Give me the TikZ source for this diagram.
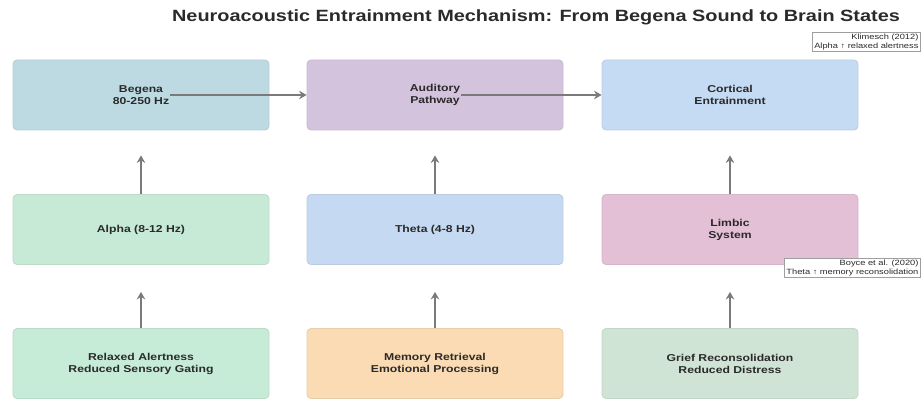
\documentclass[tikz,border=0pt]{standalone}
\usepackage{fontspec}
\setmainfont[FakeStretch=1.22]{Liberation Sans}
\usetikzlibrary{arrows.meta}
\definecolor{cBeg}{HTML}{BDDAE3}
\definecolor{cAud}{HTML}{D4C3DD}
\definecolor{cCor}{HTML}{C5DAF3}
\definecolor{cAlp}{HTML}{C6EAD5}
\definecolor{cThe}{HTML}{C5DAF2}
\definecolor{cLim}{HTML}{E3C0D5}
\definecolor{cRel}{HTML}{C6EBD7}
\definecolor{cMem}{HTML}{FBDBB3}
\definecolor{cGri}{HTML}{D0E4D6}
\definecolor{txt}{HTML}{2A2A2A}
\definecolor{arr}{HTML}{7A7A7A}
\tikzset{
  box/.style={rounded corners=4pt, minimum width=256pt, minimum height=70pt, line width=0.8pt},
  lbl/.style={font=\bfseries\fontsize{10}{12}\selectfont, text=txt, align=center, inner sep=1pt},
  conn/.style={draw=arr, line width=1.6pt, -{Stealth[length=7.5pt,width=8.5pt]}},
  note/.style={draw=gray!75, fill=white, line width=0.6pt, font=\fontsize{7.6}{8.4}\selectfont, text=txt, align=right, inner sep=1.8pt, anchor=north east}
}
\begin{document}
\begin{tikzpicture}[x=1pt,y=-1pt]
\useasboundingbox (0,0) rectangle (921,401);
\node[font=\bfseries\fontsize{16.3}{19}\selectfont, text=txt] (title) at (536,17) {Neuroacoustic Entrainment Mechanism: From Begena Sound to Brain States};
% boxes
\node[box, draw=cBeg!85!gray, fill=cBeg] (beg) at (141,95) {};
\node[box, draw=cAud!85!gray, fill=cAud] (aud) at (435,95) {};
\node[box, draw=cCor!85!gray, fill=cCor] (cor) at (730,95) {};
\node[box, draw=cAlp!85!gray, fill=cAlp] (alp) at (141,229.5) {};
\node[box, draw=cThe!85!gray, fill=cThe] (the) at (435,229.5) {};
\node[box, draw=cLim!85!gray, fill=cLim] (lim) at (730,229.5) {};
\node[box, draw=cRel!85!gray, fill=cRel] (rel) at (141,363.5) {};
\node[box, draw=cMem!85!gray, fill=cMem] (mem) at (435,363.5) {};
\node[box, draw=cGri!85!gray, fill=cGri] (gri) at (730,363.5) {};
% labels
\node[lbl, fill=cBeg] (begL) at (beg) {Begena\\80-250 Hz};
\node[lbl, fill=cAud] (audL) at (aud) {Auditory\\Pathway};
\node[lbl] (corL) at (cor) {Cortical\\Entrainment};
\node[lbl] (alpL) at (alp) {Alpha (8-12 Hz)};
\node[lbl] (theL) at (the) {Theta (4-8 Hz)};
\node[lbl] (limL) at (lim) {Limbic\\System};
\node[lbl] (relL) at (rel) {Relaxed Alertness\\Reduced Sensory Gating};
\node[lbl] (memL) at (mem) {Memory Retrieval\\Emotional Processing};
\node[lbl] (griL) at (gri) {Grief Reconsolidation\\Reduced Distress};
% connectors
\draw[conn] (begL.east) -- (aud.west);
\draw[conn] (audL.east) -- (cor.west);
\draw[conn, shorten >=25pt] (alp.north) -- (beg.south);
\draw[conn, shorten >=25pt] (the.north) -- (aud.south);
\draw[conn, shorten >=25pt] (lim.north) -- (cor.south);
\draw[conn, shorten >=27pt] (rel.north) -- (alp.south);
\draw[conn, shorten >=27pt] (mem.north) -- (the.south);
\draw[conn, shorten >=27pt] (gri.north) -- (lim.south);
% annotations
\node[note] (n1) at (920.5,32) {Klimesch (2012)\\Alpha ↑ relaxed alertness};
\node[note] (n2) at (920.5,258) {Boyce et al. (2020)\\Theta ↑ memory reconsolidation};
\end{tikzpicture}
\end{document}
